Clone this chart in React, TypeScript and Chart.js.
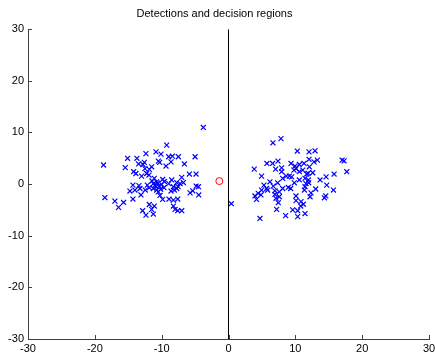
import React, { useEffect, useRef } from "react";
import { Chart, registerables } from "chart.js";

Chart.register(...registerables);

const titleText = "Detections and decision regions";
const tickValues = [-30, -20, -10, 0, 10, 20, 30];

// Left cluster detections
const leftX = [-3.77, -9.25, -10.85, -10.1, -12.35, -8.95, -8.4, -7.5, -5.0, -15.1, -13.7, -10.5, -10.3, -8.6, -12.6, -13.45, -6.6, -9.35, -18.7, -15.45, -12.5, -11.85, -11.5, -14.2, -13.85, -12.25, -11.9, -13.0, -5.85, -4.85, -7.0, -11.1, -9.85, -8.5, -11.45, -10.75, -7.75, -7.25, -6.75, -8.95, -14.3, -13.4, -11.0, -10.35, -10.0, -9.65, -8.25, -7.55, -4.85, -4.5, -11.85, -11.25, -12.45, -10.75, -10.5, -14.75, -14.0, -13.25, -8.6, -8.1, -5.75, -5.35, -4.45, -13.1, -14.3, -10.25, -9.85, -8.9, -8.25, -7.6, -18.5, -17.0, -15.7, -16.45, -11.85, -11.1, -8.25, -8.0, -7.6, -7.0, -12.85, -11.5, -12.35, -11.25, -11.25, -10.6, -10.15, -10.85, -9.6, -7.75, -12.8, -12.15];
const leftY = [10.97, 7.55, 6.25, 5.8, 5.9, 5.3, 5.4, 5.3, 5.3, 5.0, 5.0, 4.45, 4.2, 4.3, 4.2, 3.9, 3.9, 3.5, 3.7, 3.2, 3.0, 2.85, 3.35, 2.4, 2.05, 2.05, 1.75, 1.55, 1.95, 1.95, 1.3, 1.1, 0.9, 0.8, 0.6, 0.45, 0.3, 0.1, 0.3, 0.1, -0.2, -0.3, -0.2, -0.4, -0.05, -0.7, -0.5, -0.5, -0.4, -0.5, -0.7, -0.85, -1.15, -1.15, -1.5, -1.35, -1.15, -0.85, -1.35, -1.15, -1.7, -1.3, -2.1, -2.1, -2.9, -2.2, -2.95, -2.9, -3.1, -2.9, -2.6, -3.3, -3.55, -4.5, -3.95, -4.25, -4.25, -4.9, -5.15, -5.15, -5.15, -4.9, -6.0, -5.8, 0.1, 0.2, -1.0, -0.5, 0.5, -0.85, 3.8, -0.2];

// Right cluster detections
const rightX = [6.65, 7.85, 10.3, 12.05, 12.95, 5.75, 6.6, 7.4, 9.35, 9.95, 10.6, 11.3, 12.05, 12.8, 13.3, 17.0, 17.3, 3.85, 7.05, 7.95, 7.95, 10.1, 10.6, 11.1, 17.7, 15.8, 4.95, 9.1, 9.45, 11.7, 12.6, 14.6, 8.1, 11.45, 11.95, 13.7, 6.2, 7.35, 9.85, 11.6, 12.0, 5.3, 6.7, 8.95, 9.3, 14.7, 15.7, 13.05, 11.35, 5.7, 5.85, 4.95, 6.95, 7.6, 8.1, 4.45, 3.95, 4.2, 4.85, 6.95, 7.1, 7.6, 7.45, 10.1, 10.1, 10.85, 11.2, 12.2, 12.35, 14.35, 14.55, 10.8, 7.2, 9.6, 10.35, 11.45, 8.55, 10.35, 4.7, 11.9, 11.45, 9.8, 10.6, 12.1, 8.65, 0.42];
const rightY = [8.0, 8.8, 6.4, 6.25, 6.45, 4.0, 4.0, 4.45, 4.0, 3.5, 3.8, 4.0, 4.8, 4.3, 4.65, 4.65, 4.5, 2.9, 2.9, 3.15, 2.4, 3.0, 2.4, 2.7, 2.4, 1.95, 1.55, 1.55, 1.4, 1.95, 2.2, 1.4, 1.1, 1.1, 0.8, 0.8, 0.45, 0.25, 0.25, 0.1, 0.25, -0.2, -0.4, -0.65, -0.85, -0.2, -1.15, -0.95, -1.15, -0.85, -1.15, -1.15, -1.3, -1.5, -0.85, -1.8, -2.3, -2.95, -2.1, -2.0, -2.75, -2.45, -3.6, -2.3, -3.2, -3.4, -3.9, -2.45, -1.7, -2.65, -2.3, -4.25, -4.9, -5.0, -5.15, -5.7, -6.1, -6.3, -6.65, 2.1, -0.5, 2.7, 0.8, 3.35, 1.55, -3.8];

// Decision point (red circle)
const centerX = [-1.37];
const centerY = [0.58];

// Decision boundary line
const boundaryX = [0, 0];
const boundaryY = [-30, 30];

const zip = (xs: number[], ys: number[]) => xs.map((x, i) => ({ x, y: ys[i] }));

const axisColor = "#404040";

const inwardTicks = {
  id: "inwardTicks",
  afterDatasetsDraw(chart: any) {
    const { ctx, chartArea, scales } = chart;
    ctx.save();
    ctx.strokeStyle = axisColor;
    ctx.lineWidth = 1;
    ctx.beginPath();
    for (const v of tickValues) {
      const px = Math.round(scales.x.getPixelForValue(v)) + 0.5;
      ctx.moveTo(px, chartArea.bottom);
      ctx.lineTo(px, chartArea.bottom - 4);
      const py = Math.round(scales.y.getPixelForValue(v)) + 0.5;
      ctx.moveTo(chartArea.left, py);
      ctx.lineTo(chartArea.left + 4, py);
    }
    ctx.stroke();
    ctx.restore();
  },
};

export default function App() {
  const canvasRef = useRef<HTMLCanvasElement | null>(null);

  useEffect(() => {
    if (!canvasRef.current) return;
    const font = { family: "Arial, 'Liberation Sans', sans-serif", size: 11 };
    const chart = new Chart(canvasRef.current, {
      type: "scatter",
      data: {
        datasets: [
          {
            data: zip(boundaryX, boundaryY),
            showLine: true,
            borderColor: "#000000",
            borderWidth: 1,
            pointRadius: 0,
          },
          {
            data: zip(leftX, leftY),
            pointStyle: "crossRot",
            pointRadius: 3.5,
            borderColor: "#0000ff",
            borderWidth: 1.2,
          },
          {
            data: zip(rightX, rightY),
            pointStyle: "crossRot",
            pointRadius: 3.5,
            borderColor: "#0000ff",
            borderWidth: 1.2,
          },
          {
            data: zip(centerX, centerY),
            pointStyle: "circle",
            pointRadius: 3.5,
            borderColor: "#ff0000",
            backgroundColor: "rgba(0,0,0,0)",
            borderWidth: 1,
          },
        ],
      },
      options: {
        animation: false,
        responsive: false,
        layout: { padding: { left: 0, right: 6, top: 0, bottom: 0 } },
        plugins: {
          legend: { display: false },
          tooltip: { enabled: false },
          title: {
            display: true,
            text: titleText,
            color: "#000000",
            font: { ...font, weight: "normal" },
            padding: { top: 7, bottom: 9 },
          },
        },
        scales: {
          x: {
            type: "linear",
            min: -30,
            max: 30,
            grid: { display: false, drawTicks: false },
            border: { display: true, color: axisColor, width: 1 },
            ticks: {
              stepSize: 10,
              color: "#000000",
              font,
              padding: 3,
              maxRotation: 0,
            },
            afterFit(scale: any) {
              scale.height = 19;
              scale.paddingLeft = 0;
              scale.paddingRight = 0;
            },
          },
          y: {
            type: "linear",
            min: -30,
            max: 30,
            grid: { display: false, drawTicks: false },
            border: { display: true, color: axisColor, width: 1 },
            ticks: {
              stepSize: 10,
              color: "#000000",
              font,
              padding: 4,
            },
            afterFit(scale: any) {
              scale.width = 28;
              scale.paddingTop = 0;
              scale.paddingBottom = 0;
            },
          },
        },
      },
      plugins: [inwardTicks],
    } as any);
    return () => chart.destroy();
  }, []);

  return (
    <div style={{ position: "absolute", left: 0, top: 0, width: 435, height: 358, background: "#ffffff" }}>
      <canvas ref={canvasRef} width={435} height={358} />
    </div>
  );
}
